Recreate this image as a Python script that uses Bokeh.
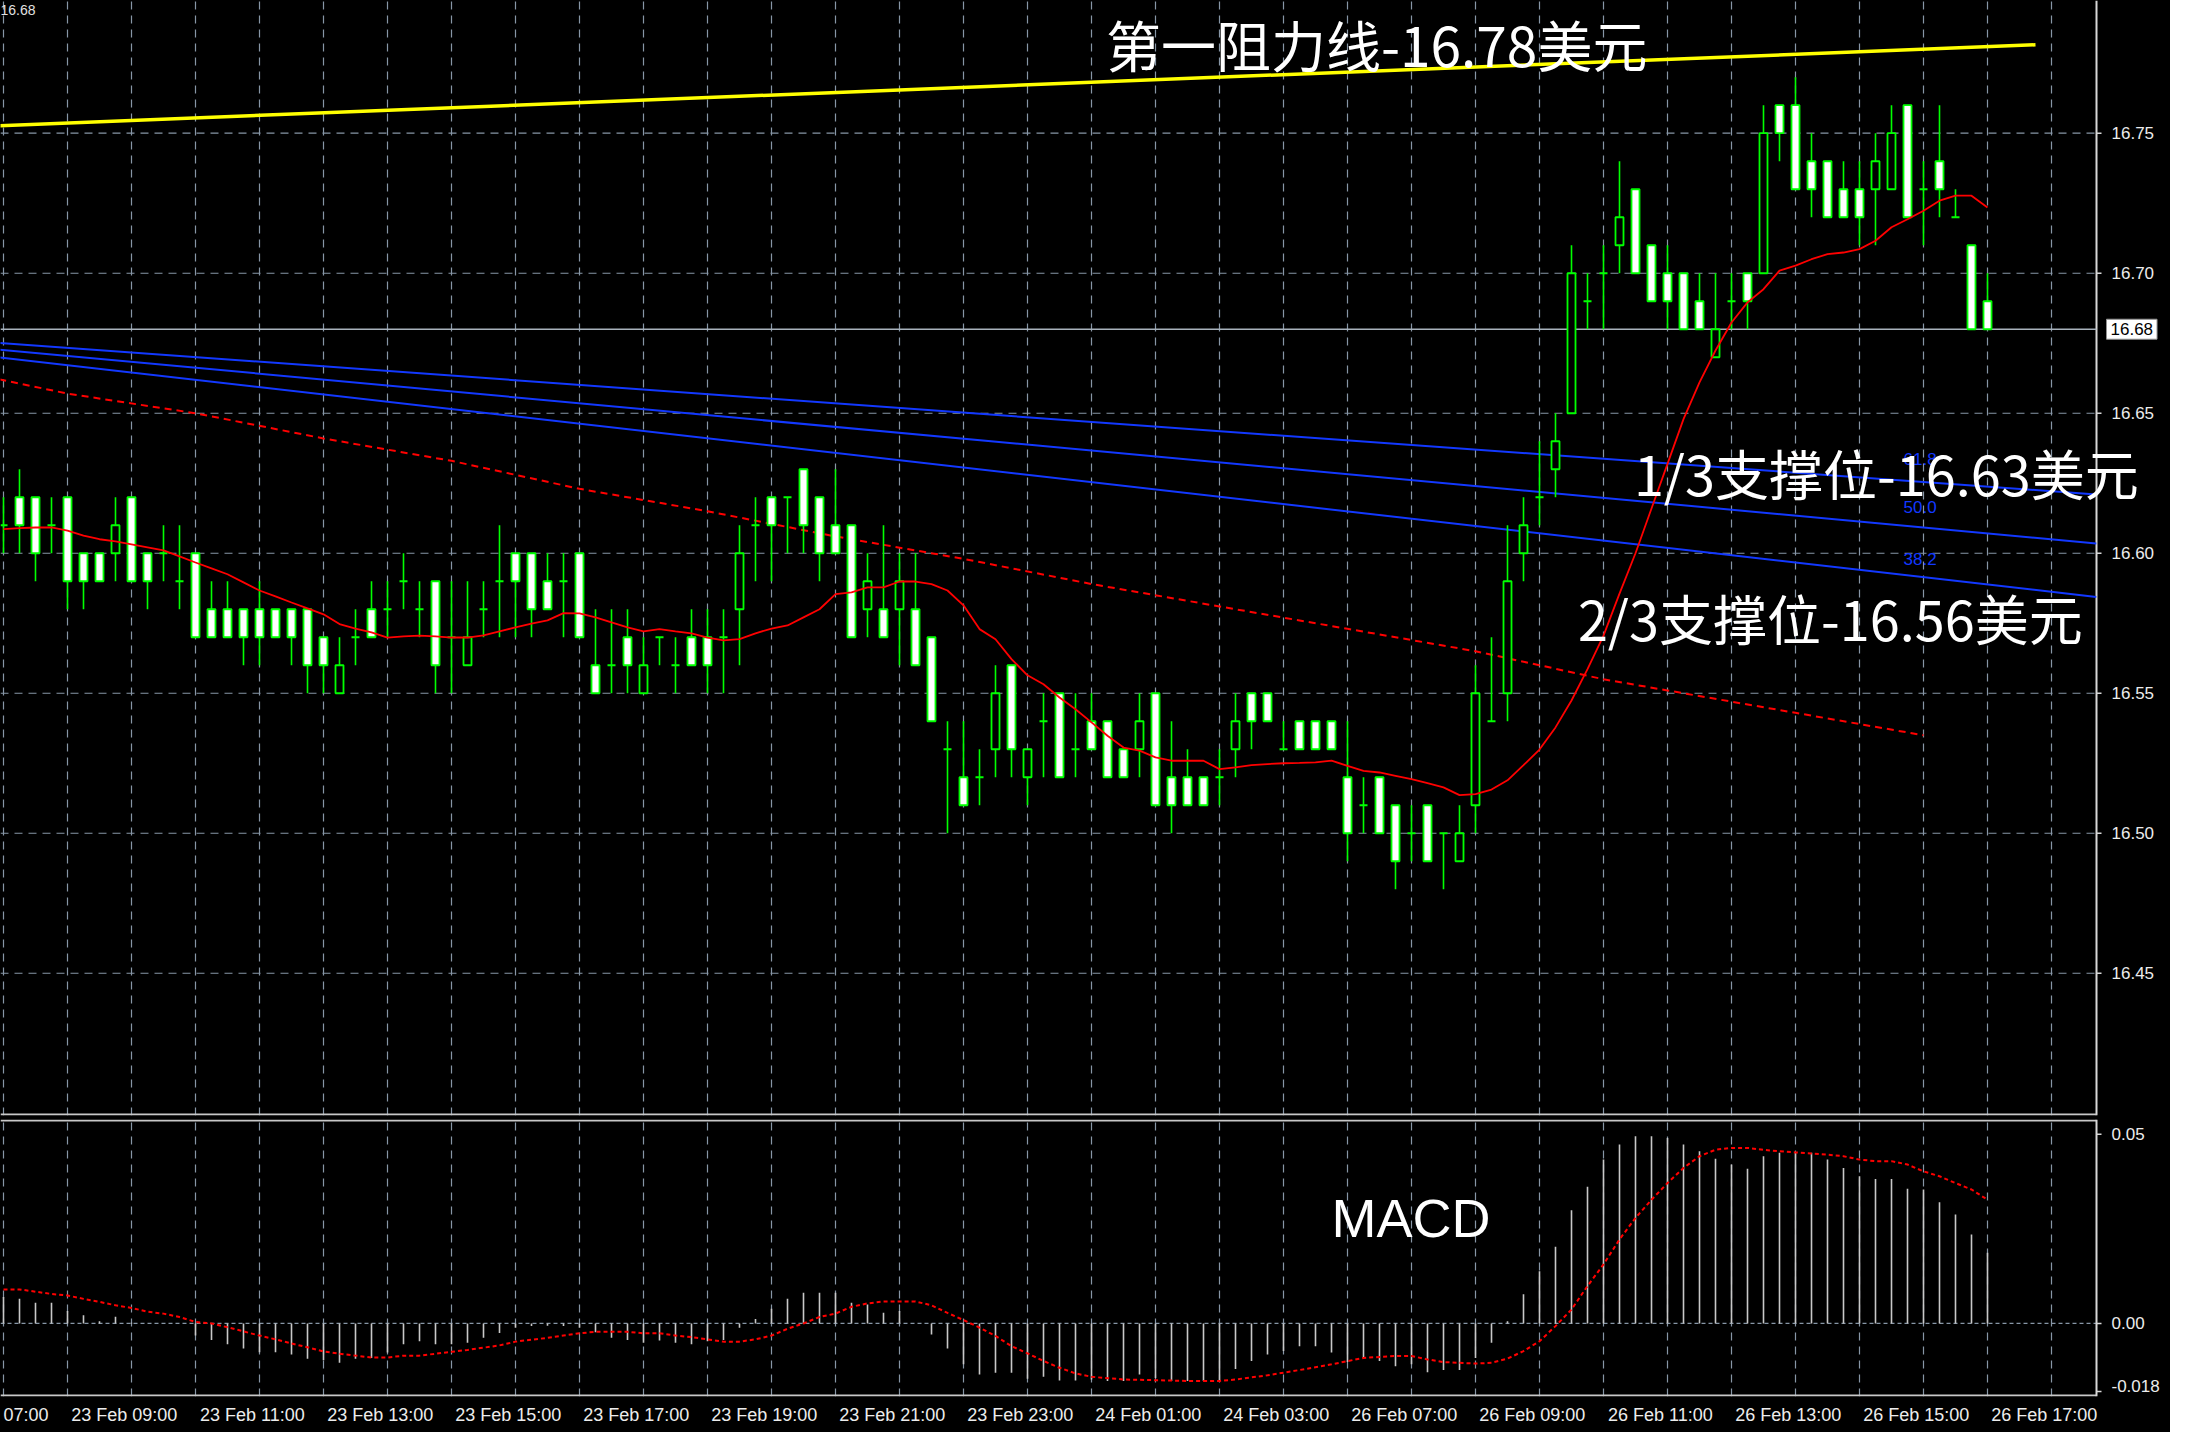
from bokeh.plotting import figure
from bokeh.models import (Range1d, FixedTicker, Label, Grid, ColumnDataSource)
from bokeh.layouts import column
from bokeh.embed import file_html
from bokeh.resources import INLINE
from bokeh.core.properties import value

# ---------------- data ----------------
time_labels = ["07:00", "23 Feb 09:00", "23 Feb 11:00", "23 Feb 13:00", "23 Feb 15:00",
               "23 Feb 17:00", "23 Feb 19:00", "23 Feb 21:00", "23 Feb 23:00",
               "24 Feb 01:00", "24 Feb 03:00", "26 Feb 07:00", "26 Feb 09:00",
               "26 Feb 11:00", "26 Feb 13:00", "26 Feb 15:00", "26 Feb 17:00"]
time_label_bars = [-4, 4, 12, 20, 28, 36, 44, 52, 60, 68, 76, 84, 92, 100, 108, 116, 124]

price_ticks = [16.45, 16.50, 16.55, 16.60, 16.65, 16.70, 16.75]
last_price = 16.68

opens = [16.61, 16.62, 16.62, 16.61, 16.62, 16.60, 16.60, 16.60, 16.62, 16.60,
         16.60, 16.59, 16.60, 16.58, 16.58, 16.58, 16.58, 16.58, 16.58, 16.58,
         16.57, 16.55, 16.57, 16.58, 16.58, 16.59, 16.58, 16.59, 16.57, 16.56,
         16.58, 16.59, 16.60, 16.60, 16.59, 16.59, 16.60, 16.56, 16.56, 16.57,
         16.55, 16.57, 16.56, 16.57, 16.57, 16.57, 16.58, 16.61, 16.62, 16.62,
         16.63, 16.62, 16.61, 16.61, 16.58, 16.58, 16.58, 16.58, 16.57, 16.53,
         16.52, 16.52, 16.53, 16.56, 16.52, 16.54, 16.55, 16.53, 16.54, 16.54,
         16.53, 16.53, 16.55, 16.52, 16.52, 16.52, 16.52, 16.53, 16.55, 16.55,
         16.53, 16.54, 16.54, 16.54, 16.52, 16.51, 16.52, 16.51, 16.50, 16.51,
         16.50, 16.49, 16.51, 16.54, 16.55, 16.60, 16.62, 16.63, 16.65, 16.69,
         16.70, 16.71, 16.73, 16.71, 16.70, 16.70, 16.69, 16.67, 16.69, 16.70,
         16.70, 16.76, 16.76, 16.74, 16.74, 16.73, 16.73, 16.73, 16.73, 16.76,
         16.73, 16.74, 16.72, 16.71, 16.69]
highs = [16.62, 16.63, 16.62, 16.62, 16.62, 16.60, 16.60, 16.62, 16.62, 16.60,
         16.61, 16.61, 16.60, 16.59, 16.59, 16.58, 16.59, 16.58, 16.58, 16.58,
         16.57, 16.57, 16.58, 16.59, 16.59, 16.60, 16.59, 16.59, 16.59, 16.59,
         16.59, 16.61, 16.60, 16.60, 16.60, 16.60, 16.60, 16.58, 16.58, 16.58,
         16.57, 16.57, 16.57, 16.58, 16.58, 16.58, 16.61, 16.62, 16.62, 16.62,
         16.63, 16.62, 16.63, 16.61, 16.60, 16.61, 16.60, 16.60, 16.57, 16.54,
         16.54, 16.53, 16.56, 16.56, 16.53, 16.55, 16.55, 16.55, 16.55, 16.54,
         16.53, 16.55, 16.55, 16.54, 16.53, 16.52, 16.53, 16.55, 16.55, 16.55,
         16.54, 16.54, 16.54, 16.54, 16.54, 16.52, 16.52, 16.51, 16.51, 16.51,
         16.50, 16.51, 16.56, 16.57, 16.61, 16.62, 16.64, 16.65, 16.71, 16.70,
         16.71, 16.74, 16.73, 16.71, 16.71, 16.70, 16.70, 16.70, 16.70, 16.70,
         16.76, 16.76, 16.77, 16.75, 16.74, 16.74, 16.74, 16.75, 16.76, 16.76,
         16.74, 16.76, 16.73, 16.71, 16.70]
lows = [16.60, 16.60, 16.59, 16.60, 16.58, 16.58, 16.59, 16.59, 16.59, 16.58,
        16.59, 16.58, 16.57, 16.57, 16.57, 16.56, 16.56, 16.57, 16.56, 16.55,
        16.55, 16.55, 16.56, 16.57, 16.57, 16.58, 16.57, 16.55, 16.55, 16.56,
        16.57, 16.57, 16.57, 16.57, 16.58, 16.57, 16.57, 16.55, 16.55, 16.55,
        16.55, 16.56, 16.55, 16.56, 16.55, 16.55, 16.56, 16.59, 16.59, 16.60,
        16.60, 16.59, 16.60, 16.57, 16.57, 16.57, 16.56, 16.56, 16.54, 16.50,
        16.51, 16.51, 16.52, 16.52, 16.51, 16.52, 16.52, 16.52, 16.53, 16.52,
        16.52, 16.52, 16.51, 16.50, 16.51, 16.51, 16.51, 16.52, 16.53, 16.54,
        16.53, 16.53, 16.53, 16.53, 16.49, 16.50, 16.50, 16.48, 16.49, 16.49,
        16.48, 16.49, 16.50, 16.54, 16.54, 16.59, 16.61, 16.62, 16.65, 16.68,
        16.68, 16.70, 16.70, 16.69, 16.68, 16.68, 16.68, 16.67, 16.68, 16.68,
        16.70, 16.74, 16.73, 16.72, 16.72, 16.72, 16.71, 16.71, 16.73, 16.72,
        16.71, 16.72, 16.72, 16.68, 16.68]
closes = [16.61, 16.61, 16.60, 16.61, 16.59, 16.59, 16.59, 16.61, 16.59, 16.59,
          16.60, 16.59, 16.57, 16.57, 16.57, 16.57, 16.57, 16.57, 16.57, 16.56,
          16.56, 16.56, 16.57, 16.57, 16.58, 16.59, 16.58, 16.56, 16.57, 16.57,
          16.58, 16.59, 16.59, 16.58, 16.58, 16.59, 16.57, 16.55, 16.56, 16.56,
          16.56, 16.57, 16.56, 16.56, 16.56, 16.57, 16.60, 16.61, 16.61, 16.62,
          16.61, 16.60, 16.60, 16.57, 16.59, 16.57, 16.59, 16.56, 16.54, 16.53,
          16.51, 16.52, 16.55, 16.53, 16.53, 16.54, 16.52, 16.53, 16.53, 16.52,
          16.52, 16.54, 16.51, 16.51, 16.51, 16.51, 16.52, 16.54, 16.54, 16.54,
          16.53, 16.53, 16.53, 16.53, 16.50, 16.51, 16.50, 16.49, 16.50, 16.49,
          16.50, 16.50, 16.55, 16.54, 16.59, 16.61, 16.62, 16.64, 16.70, 16.69,
          16.70, 16.72, 16.70, 16.69, 16.69, 16.68, 16.68, 16.68, 16.69, 16.69,
          16.75, 16.75, 16.73, 16.73, 16.72, 16.72, 16.72, 16.74, 16.75, 16.72,
          16.73, 16.73, 16.72, 16.68, 16.68]

ma_fast = [16.6086, 16.6090, 16.6092, 16.6092, 16.6081, 16.6063, 16.6050, 16.6042, 16.6032, 16.6021,
           16.6010, 16.5989, 16.5967, 16.5946, 16.5925, 16.5896, 16.5867, 16.5846, 16.5824, 16.5803,
           16.5782, 16.5747, 16.5731, 16.5717, 16.5699, 16.5703, 16.5706, 16.5703, 16.5699, 16.5699,
           16.5707, 16.5721, 16.5735, 16.5749, 16.5760, 16.5786, 16.5785, 16.5771, 16.5753, 16.5735,
           16.5721, 16.5729, 16.5721, 16.5714, 16.5699, 16.5689, 16.5693, 16.5714, 16.5731, 16.5742,
           16.5771, 16.5800, 16.5854, 16.5860, 16.5878, 16.5878, 16.5899, 16.5899, 16.5890, 16.5867,
           16.5814, 16.5729, 16.5693, 16.5622, 16.5564, 16.5532, 16.5485, 16.5443, 16.5396, 16.5348,
           16.5306, 16.5295, 16.5271, 16.5259, 16.5259, 16.5259, 16.5229, 16.5235, 16.5243, 16.5247,
           16.5250, 16.5251, 16.5253, 16.5259, 16.5241, 16.5223, 16.5217, 16.5205, 16.5193, 16.5179,
           16.5164, 16.5136, 16.5140, 16.5156, 16.5189, 16.5243, 16.5299, 16.5378, 16.5474, 16.5586,
           16.5706, 16.5856, 16.6000, 16.6160, 16.6319, 16.6479, 16.6610, 16.6724, 16.6824, 16.6896,
           16.6943, 16.7009, 16.7027, 16.7050, 16.7068, 16.7074, 16.7086, 16.7116, 16.7164, 16.7193,
           16.7223, 16.7259, 16.7277, 16.7277, 16.7235]

ma_slow_bars = [-1, 4, 12, 20, 28, 36, 44, 52, 60, 68, 76, 84, 92, 96, 100, 104, 108, 112, 116, 120]
ma_slow = [16.663, 16.657, 16.650, 16.641, 16.633, 16.623, 16.615, 16.606, 16.598, 16.589,
           16.581, 16.573, 16.565, 16.560, 16.555, 16.551, 16.547, 16.543, 16.539, 16.535]

res_bars = [-1, 127]
res_prices = [16.7525, 16.7816]

fan_bars = [-1, 130.8]
fan_618 = [16.6754, 16.6210]
fan_500 = [16.6731, 16.6035]
fan_382 = [16.6704, 16.5844]

macd_hist = [0.0070, 0.0065, 0.0055, 0.0055, 0.0033, 0.0022, 0.0006, 0.0018, 0.0002, 0.0000,
             0.0000, 0.0000, -0.0032, -0.0044, -0.0055, -0.0066, -0.0076, -0.0076, -0.0082, -0.0093,
             -0.0097, -0.0104, -0.0093, -0.0091, -0.0077, -0.0055, -0.0047, -0.0055, -0.0055, -0.0051,
             -0.0038, -0.0025, -0.0011, -0.0007, -0.0006, -0.0007, -0.0011, -0.0023, -0.0038, -0.0044,
             -0.0051, -0.0045, -0.0051, -0.0055, -0.0047, -0.0044, -0.0011, 0.0012, 0.0039, 0.0065,
             0.0081, 0.0081, 0.0081, 0.0055, 0.0050, 0.0028, 0.0033, 0.0000, -0.0029, -0.0066,
             -0.0108, -0.0135, -0.0130, -0.0130, -0.0146, -0.0141, -0.0151, -0.0151, -0.0148, -0.0152,
             -0.0152, -0.0135, -0.0144, -0.0152, -0.0152, -0.0152, -0.0152, -0.0120, -0.0099, -0.0082,
             -0.0073, -0.0060, -0.0060, -0.0077, -0.0102, -0.0091, -0.0099, -0.0113, -0.0108, -0.0129,
             -0.0123, -0.0123, -0.0091, -0.0051, 0.0006, 0.0077, 0.0138, 0.0203, 0.0299, 0.0361,
             0.0433, 0.0473, 0.0495, 0.0495, 0.0490, 0.0473, 0.0455, 0.0435, 0.0420, 0.0409,
             0.0442, 0.0451, 0.0451, 0.0451, 0.0433, 0.0411, 0.0389, 0.0382, 0.0382, 0.0356,
             0.0354, 0.0320, 0.0288, 0.0235, 0.0187]

signal_bars = list(range(0, 69)) + [70, 72, 74, 76, 77, 79, 81, 83, 85, 87, 88, 89, 90, 92, 93] + list(range(94, 125))
signal_vals = [0.0090, 0.0090, 0.0084, 0.0078, 0.0074, 0.0065, 0.0057, 0.0048, 0.0041, 0.0031,
               0.0026, 0.0017, 0.0004, 0.0000, -0.0010, -0.0021, -0.0032, -0.0042, -0.0053, -0.0063,
               -0.0074, -0.0080, -0.0085, -0.0090, -0.0090, -0.0085, -0.0085, -0.0080, -0.0075, -0.0070,
               -0.0064, -0.0058, -0.0048, -0.0043, -0.0038, -0.0032, -0.0026, -0.0022, -0.0022, -0.0022,
               -0.0026, -0.0026, -0.0032, -0.0036, -0.0042, -0.0048, -0.0048, -0.0042, -0.0032, -0.0014,
               0.0000, 0.0017, 0.0026, 0.0044, 0.0053, 0.0058, 0.0058, 0.0058, 0.0048, 0.0028,
               0.0009, -0.0011, -0.0033, -0.0060, -0.0079, -0.0099, -0.0117, -0.0132, -0.0141,
               -0.0148, -0.0150, -0.0152, -0.0152, -0.0148, -0.0137, -0.0123, -0.0108, -0.0091, -0.0086,
               -0.0086, -0.0095, -0.0102, -0.0106, -0.0104,
               -0.0093, -0.0073, -0.0047, -0.0007, 0.0037, 0.0099, 0.0156, 0.0222, 0.0279, 0.0327,
               0.0371, 0.0411, 0.0442, 0.0459, 0.0464, 0.0464, 0.0459, 0.0455, 0.0452, 0.0449,
               0.0446, 0.0442, 0.0433, 0.0429, 0.0429, 0.0420, 0.0402, 0.0389, 0.0371, 0.0354, 0.0327]

macd_ticks = [0.05, 0.0, -0.018]
macd_tick_text = ["0.05", "0.00", "-0.018"]

# ---------------- styling / geometry ----------------
BG = "#000000"
GRID = "#8796a6"
AXIS = "#d8d8d8"
AXIS_TXT = "#ececec"
CANDLE = "#00ff00"
FONT = "Liberation Sans"
CJK = "Noto Sans CJK SC"

W = 2170
BAR_PX = 16.0
X0 = -0.1875                 # left edge of the window
XR = X0 + W / BAR_PX         # right edge of the canvas
AX = 130.8125                # price scale line
P_LO, P_HI = 16.3992, 16.7974
M_LO, M_HI = -0.0193, 0.0539
P_PX = 2800.0                # px per price unit
M_PX = 3786.0                # px per MACD unit
LBL_DX = 15 / BAR_PX         # scale label offset from the scale line

xr = Range1d(X0, XR)
vgrid_ticks = list(range(0, 129, 4))


def base_fig(h, ylo, yhi, bottom):
    f = figure(width=W, height=h, x_range=xr, y_range=Range1d(ylo, yhi),
               output_backend="svg", toolbar_location=None,
               x_axis_location=("below" if bottom else None), y_axis_location=None,
               min_border_left=0, min_border_right=0, min_border_top=0,
               min_border_bottom=(36 if bottom else 4),
               background_fill_color=BG, border_fill_color=BG, outline_line_color=None)
    f.grid.visible = False
    f.add_layout(Grid(dimension=0, ticker=FixedTicker(ticks=vgrid_ticks),
                      grid_line_color=GRID, grid_line_dash="8 6", grid_line_width=1.2))
    return f


# ---------------- price panel ----------------
p1 = base_fig(1119, P_LO, P_HI, False)
n_pt = len(price_ticks)
p1.segment(x0=[X0] * n_pt, y0=price_ticks, x1=[AX] * n_pt, y1=price_ticks,
           line_color=GRID, line_dash="8 6", line_width=1.2)
# price scale
p1.segment(x0=[AX] * n_pt, y0=price_ticks, x1=[AX + 5 / BAR_PX] * n_pt, y1=price_ticks,
           line_color=AXIS, line_width=1.5)
p1.text(x=[AX + LBL_DX] * n_pt, y=price_ticks, text=["%.2f" % v for v in price_ticks],
        text_font=value(FONT), text_font_size=value("17px"), text_color=AXIS_TXT,
        text_align="left", text_baseline="middle")
p1.segment(x0=[AX], y0=[P_LO], x1=[AX], y1=[P_HI], line_color=AXIS, line_width=2)
p1.segment(x0=[X0], y0=[P_LO + 1 / P_PX], x1=[AX], y1=[P_LO + 1 / P_PX],
           line_color="#c8c8c8", line_width=2)

# current price line
p1.segment(x0=[X0], y0=[last_price], x1=[AX], y1=[last_price], line_color="#a8b2bc", line_width=1.6)

# fibonacci fan (blue) and resistance line (yellow)
for fv in (fan_618, fan_500, fan_382):
    p1.line(fan_bars, fv, line_color="#1238ff", line_width=2)
p1.line(res_bars, res_prices, line_color="#ffff00", line_width=3.5)

# slow moving average (red dotted)
p1.line(ma_slow_bars, ma_slow, line_color="#ff0000", line_width=2, line_dash="7 5")

# candles
n = len(opens)
bars = list(range(n))
src = ColumnDataSource(dict(
    x=bars, h=highs, l=lows,
    top=[max(o, c) for o, c in zip(opens, closes)],
    bot=[min(o, c) for o, c in zip(opens, closes)],
    fill=["#ffffff" if c < o else "#000000" for o, c in zip(opens, closes)],
))
p1.segment(x0="x", y0="l", x1="x", y1="h", source=src, line_color=CANDLE, line_width=1.6)
p1.vbar(x="x", top="top", bottom="bot", width=0.5, source=src,
        fill_color="fill", line_color=CANDLE, line_width=1.8)

# fast moving average (red)
p1.line(bars, ma_fast, line_color="#ff0000", line_width=1.8)

# texts
p1.add_layout(Label(x=X0, y=P_HI - 4 / P_PX, text="16.68", text_font=FONT, text_font_size="14px",
                    text_color="#e0e0e0", text_baseline="top"))
for txt, yy in (("61.8", 16.6336), ("50.0", 16.6164), ("38.2", 16.5981)):
    p1.add_layout(Label(x=118.75, y=yy, text=txt, text_font=FONT, text_font_size="17px",
                        text_color="#1238ff", text_baseline="middle"))
p1.add_layout(Label(x=68.9, y=P_HI - 42 / P_PX, text="第一阻力线-16.78美元", text_font=CJK,
                    text_font_size="55px", text_color="#ffffff", text_baseline="middle"))
p1.add_layout(Label(x=101.9, y=16.6287, text="1/3支撑位-16.63美元", text_font=CJK,
                    text_font_size="54px", text_color="#ffffff", text_baseline="middle"))
p1.add_layout(Label(x=98.4, y=16.5769, text="2/3支撑位-16.56美元", text_font=CJK,
                    text_font_size="54px", text_color="#ffffff", text_baseline="middle"))
p1.add_layout(Label(x=AX + 10 / BAR_PX, y=last_price, text="16.68", text_font=FONT,
                    text_font_size="17px", text_color="#000000", text_baseline="middle",
                    background_fill_color="#ffffff", border_line_color="#909090", padding=4))

# ---------------- MACD panel ----------------
p2 = base_fig(313, M_LO, M_HI, True)
p2.segment(x0=[X0], y0=[0.0], x1=[AX], y1=[0.0], line_color=GRID, line_dash="4 3", line_width=1.2)
p2.segment(x0=[X0, X0], y0=[M_HI - 1 / M_PX, M_LO + 1 / M_PX], x1=[AX, AX],
           y1=[M_HI - 1 / M_PX, M_LO + 1 / M_PX], line_color="#c8c8c8", line_width=2)
p2.segment(x0=[AX], y0=[M_LO], x1=[AX], y1=[M_HI], line_color=AXIS, line_width=2)

p2.segment(x0=bars, y0=[0] * n, x1=bars, y1=macd_hist, line_color="#c8c8c8", line_width=1.6)
p2.line(signal_bars, signal_vals, line_color="#ff0000", line_width=2, line_dash="4 3")
p2.add_layout(Label(x=83.0, y=0.028, text="MACD", text_font=FONT, text_font_size="54px",
                    text_color="#ffffff", text_baseline="middle"))

# MACD scale
p2.segment(x0=[AX] * 3, y0=macd_ticks, x1=[AX + 5 / BAR_PX] * 3, y1=macd_ticks,
           line_color=AXIS, line_width=1.5)
p2.text(x=[AX + LBL_DX] * 2, y=macd_ticks[:2], text=macd_tick_text[:2],
        text_font=value(FONT), text_font_size=value("17px"), text_color=AXIS_TXT,
        text_align="left", text_baseline="middle")
p2.text(x=[AX + LBL_DX], y=[macd_ticks[2]], text=[macd_tick_text[2]],
        text_font=value(FONT), text_font_size=value("17px"), text_color=AXIS_TXT,
        text_align="left", text_baseline="bottom")

# time labels are drawn to the right of their hour, as the platform does
label_pos = []
for b in time_label_bars:
    pos = b + 3.55
    if pos - 3.6 < X0:
        pos = 1.4
    label_pos.append(pos)
xa = p2.xaxis[0]
xa.ticker = FixedTicker(ticks=label_pos)
xa.major_label_overrides = {pp: t for pp, t in zip(label_pos, time_labels)}
xa.axis_line_color = None
xa.major_tick_line_color = None
xa.major_tick_out = 0
xa.major_tick_in = 0
xa.minor_tick_line_color = None
xa.major_label_standoff = 8
xa.major_label_text_color = AXIS_TXT
xa.major_label_text_font = FONT
xa.major_label_text_font_size = "18px"

layout = column(p1, p2, spacing=0, styles={"background-color": "#000000"})
open("out.html", "w").write(file_html(layout, INLINE))
